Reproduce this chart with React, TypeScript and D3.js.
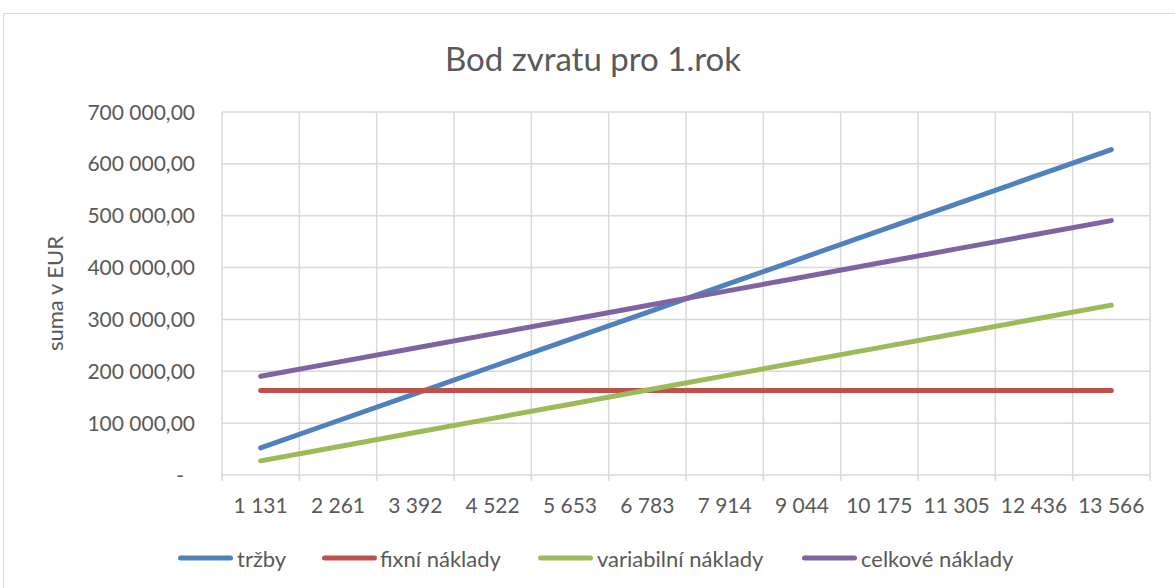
import React from "react";
import * as d3 from "d3";

const categories = ["1 131", "2 261", "3 392", "4 522", "5 653", "6 783", "7 914", "9 044", "10 175", "11 305", "12 436", "13 566"];
const trzby = [52300, 104600, 156900, 209200, 261500, 313800, 366100, 418400, 470700, 523000, 575300, 627600];
const fixni = [163000, 163000, 163000, 163000, 163000, 163000, 163000, 163000, 163000, 163000, 163000, 163000];
const variabilni = [27300, 54600, 81900, 109200, 136500, 163800, 191100, 218400, 245700, 273000, 300300, 327600];
const celkove = [190300, 217600, 244900, 272200, 299500, 326800, 354100, 381400, 408700, 436000, 463300, 490600];
const yTicks = [0, 100000, 200000, 300000, 400000, 500000, 600000, 700000];
const seriesNames = ["tržby", "fixní náklady", "variabilní náklady", "celkové náklady"];
const seriesColors = ["#4f81bd", "#c0504d", "#9bbb59", "#8064a2"];

const W = 1175, H = 588;
const plot = { left: 222, right: 1150, top: 112, bottom: 475 };
const FONT = "Lato, 'Open Sans', sans-serif";
const TXT = "#595959";

function fmt(v: number) {
  if (v === 0) return "-";
  const s = d3.format(",.2f")(v);
  return s.replace(/,/g, " ").replace(".", ",");
}

export default function App() {
  const x = d3.scaleBand<string>().domain(categories).range([plot.left, plot.right]);
  const y = d3.scaleLinear().domain([0, 700000]).range([plot.bottom, plot.top]);
  const line = d3.line<number>()
    .x((_, i) => (x(categories[i]) as number) + x.bandwidth() / 2)
    .y((d) => y(d));
  const data = [trzby, fixni, variabilni, celkove];
  const gridX = d3.range(categories.length + 1).map((i) => plot.left + i * x.bandwidth());
  const legendPos = [
    { lx: 180.5, tx: 237 },
    { lx: 324.5, tx: 380 },
    { lx: 540.5, tx: 597 },
    { lx: 804.5, tx: 861 },
  ];
  return (
    <svg width={W} height={H} style={{ position: "absolute", left: 0, top: 0 }}>
      <rect x={0} y={0} width={W} height={H} fill="#fff" />
      <rect x={3.5} y={13.5} width={1180} height={600} fill="#fff" stroke="#d9d9d9" strokeWidth={1} />
      <text x={593} y={71} textAnchor="middle" fontFamily={FONT} fontSize={33} fill={TXT}>Bod zvratu pro 1.rok</text>
      {yTicks.map((t) => (
        <line key={"gy" + t} x1={plot.left} x2={plot.right} y1={y(t)} y2={y(t)} stroke="#d9d9d9" strokeWidth={1.5} />
      ))}
      {gridX.map((gx, i) => (
        <line key={"gx" + i} x1={gx} x2={gx} y1={plot.top} y2={plot.bottom + 6} stroke="#d9d9d9" strokeWidth={1.5} />
      ))}
      {yTicks.map((t) => (
        <text key={"ty" + t} x={t === 0 ? 184 : 195} y={y(t) + 7.5} textAnchor="end" fontFamily={FONT} fontSize={21} fill={TXT}>{fmt(t)}</text>
      ))}
      {categories.map((c) => (
        <text key={"tx" + c} x={(x(c) as number) + x.bandwidth() / 2} y={513} textAnchor="middle" fontFamily={FONT} fontSize={21} fill={TXT}>{c}</text>
      ))}
      <text transform={`translate(63,${(plot.top + plot.bottom) / 2}) rotate(-90)`} textAnchor="middle" fontFamily={FONT} fontSize={22} fill={TXT}>suma v EUR</text>
      {data.map((d, i) => (
        <path key={"s" + i} d={line(d) || ""} fill="none" stroke={seriesColors[i]} strokeWidth={5} strokeLinecap="round" strokeLinejoin="round" />
      ))}
      {seriesNames.map((n, i) => (
        <g key={"lg" + i}>
          <line x1={legendPos[i].lx} x2={legendPos[i].lx + 50} y1={558} y2={558} stroke={seriesColors[i]} strokeWidth={5} strokeLinecap="round" />
          <text x={legendPos[i].tx} y={567} fontFamily={FONT} fontSize={22} fill={TXT}>{n}</text>
        </g>
      ))}
    </svg>
  );
}
